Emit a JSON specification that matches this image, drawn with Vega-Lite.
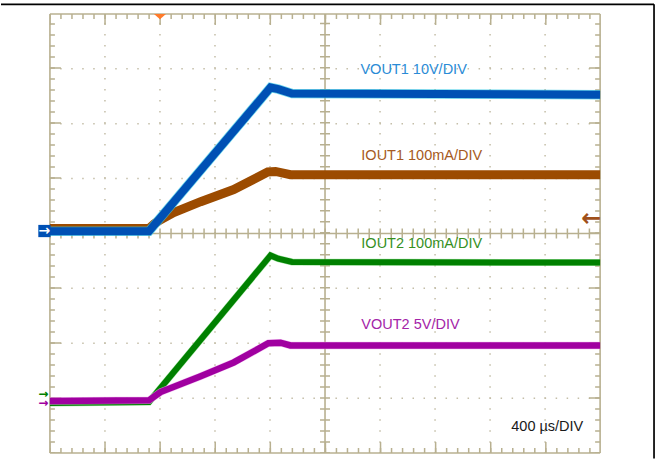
{
  "$schema": "https://vega.github.io/schema/vega-lite/v6.json",
  "width": 657,
  "height": 460,
  "autosize": {"type": "fit", "contains": "padding"},
  "padding": 0,
  "background": "white",
  "view": {"stroke": null},
  "config": {"font": "Liberation Sans"},
  "datasets": {
    "frame": [
      {"t": -0.8893, "t2": 10.98, "v": 4.176, "v2": 4.176},
      {"t": 10.98, "t2": 10.98, "v": -4.1, "v2": 4.176}
    ],
    "dotgrid": [
      {"t": 1, "t2": 1, "v": -4, "v2": 4},
      {"t": 2, "t2": 2, "v": -4, "v2": 4},
      {"t": 3, "t2": 3, "v": -4, "v2": 4},
      {"t": 4, "t2": 4, "v": -4, "v2": 4},
      {"t": 6, "t2": 6, "v": -4, "v2": 4},
      {"t": 7, "t2": 7, "v": -4, "v2": 4},
      {"t": 8, "t2": 8, "v": -4, "v2": 4},
      {"t": 9, "t2": 9, "v": -4, "v2": 4},
      {"t": 0, "t2": 10, "v": 3, "v2": 3},
      {"t": 0, "t2": 10, "v": 2, "v2": 2},
      {"t": 0, "t2": 10, "v": 1, "v2": 1},
      {"t": 0, "t2": 10, "v": -1, "v2": -1},
      {"t": 0, "t2": 10, "v": -2, "v2": -2},
      {"t": 0, "t2": 10, "v": -3, "v2": -3}
    ],
    "solid": [
      {"t": 0, "t2": 10, "v": 4, "v2": 4},
      {"t": 0, "t2": 10, "v": -4, "v2": -4},
      {"t": 0, "t2": 0, "v": -4, "v2": 4},
      {"t": 10, "t2": 10, "v": -4, "v2": 4},
      {"t": 5, "t2": 5, "v": -4, "v2": 4},
      {"t": 0, "t2": 10, "v": 0, "v2": 0}
    ],
    "centerticks": [
      {"t": 5, "t2": 5, "v": -4, "v2": 4},
      {"t": 0, "t2": 10, "v": 0, "v2": 0}
    ],
    "top": [{"t": 0, "t2": 10, "v": 4, "v2": 4}],
    "bottom": [{"t": 0, "t2": 10, "v": -4, "v2": -4}],
    "left": [{"t": 0, "t2": 0, "v": -4, "v2": 4}],
    "right": [{"t": 10, "t2": 10, "v": -4, "v2": 4}],
    "traces": [
      {"series": "IOUT1", "t": 0, "v": 0.09},
      {"series": "IOUT1", "t": 1.8, "v": 0.09},
      {"series": "IOUT1", "t": 1.9, "v": 0.18},
      {"series": "IOUT1", "t": 2.01, "v": 0.25},
      {"series": "IOUT1", "t": 2.25, "v": 0.38},
      {"series": "IOUT1", "t": 2.74, "v": 0.58},
      {"series": "IOUT1", "t": 3.34, "v": 0.8},
      {"series": "IOUT1", "t": 3.96, "v": 1.12},
      {"series": "IOUT1", "t": 4.1, "v": 1.13},
      {"series": "IOUT1", "t": 4.37, "v": 1.07},
      {"series": "IOUT1", "t": 10, "v": 1.07},
      {"series": "VOUT1", "t": 0, "v": 0.04},
      {"series": "VOUT1", "t": 1.8, "v": 0.04},
      {"series": "VOUT1", "t": 4.01, "v": 2.66},
      {"series": "VOUT1", "t": 4.15, "v": 2.63},
      {"series": "VOUT1", "t": 4.4, "v": 2.55},
      {"series": "VOUT1", "t": 10, "v": 2.53},
      {"series": "IOUT2", "t": 0, "v": -3.09},
      {"series": "IOUT2", "t": 1.8, "v": -3.07},
      {"series": "IOUT2", "t": 4.01, "v": -0.4},
      {"series": "IOUT2", "t": 4.15, "v": -0.46},
      {"series": "IOUT2", "t": 4.4, "v": -0.52},
      {"series": "IOUT2", "t": 10, "v": -0.53},
      {"series": "VOUT2", "t": 0, "v": -3.05},
      {"series": "VOUT2", "t": 1.8, "v": -3.04},
      {"series": "VOUT2", "t": 2.01, "v": -2.89},
      {"series": "VOUT2", "t": 2.74, "v": -2.6},
      {"series": "VOUT2", "t": 3.34, "v": -2.35},
      {"series": "VOUT2", "t": 3.97, "v": -2.0},
      {"series": "VOUT2", "t": 4.19, "v": -1.99},
      {"series": "VOUT2", "t": 4.37, "v": -2.04},
      {"series": "VOUT2", "t": 10, "v": -2.04}
    ],
    "labels": [
      {"label": "VOUT1 10V/DIV", "t": 5.644, "v": 2.909},
      {"label": "IOUT1 100mA/DIV", "t": 5.66, "v": 1.345},
      {"label": "IOUT2 100mA/DIV", "t": 5.66, "v": -0.273},
      {"label": "VOUT2 5V/DIV", "t": 5.66, "v": -1.745},
      {"label": "400 µs/DIV", "t": 8.385, "v": -3.6}
    ],
    "trigger": [{"t": 2, "v": 4}],
    "ch1": [{"t": -0.1, "v": 0.045}],
    "ch24": [
      {"name": "IOUT2", "sym": "→", "t": -0.12, "v": -2.92},
      {"name": "VOUT2", "sym": "→", "t": -0.12, "v": -3.08}
    ],
    "ch3": [{"sym": "←", "t": 9.84, "v": 0.27}]
  },
  "encoding": {
    "x": {"field": "t", "type": "quantitative", "scale": {"domain": [-0.8893, 11.034], "nice": false, "zero": false}, "axis": null},
    "y": {"field": "v", "type": "quantitative", "scale": {"domain": [-4.1091, 4.2545], "nice": false, "zero": false}, "axis": null}
  },
  "layer": [
    {
      "data": {"name": "frame"},
      "mark": {"type": "rule", "color": "#000000", "strokeWidth": 1.7},
      "encoding": {"x2": {"field": "t2"}, "y2": {"field": "v2"}}
    },
    {
      "data": {"name": "dotgrid"},
      "mark": {"type": "rule", "color": "#c4bea8", "strokeWidth": 1.5, "strokeDash": [1.5, 9.51], "strokeDashOffset": 0.75},
      "encoding": {"x2": {"field": "t2"}, "y2": {"field": "v2"}}
    },
    {
      "data": {"name": "solid"},
      "mark": {"type": "rule", "color": "#b8b090", "strokeWidth": 1.6},
      "encoding": {"x2": {"field": "t2"}, "y2": {"field": "v2"}}
    },
    {
      "data": {"name": "centerticks"},
      "mark": {"type": "rule", "color": "#b8b090", "strokeWidth": 10, "strokeDash": [1.5, 9.51], "strokeDashOffset": 0.75},
      "encoding": {"x2": {"field": "t2"}, "y2": {"field": "v2"}}
    },
    {
      "data": {"name": "top"},
      "mark": {"type": "rule", "color": "#b8b090", "strokeWidth": 5, "yOffset": 2.5, "y2Offset": 2.5, "strokeDash": [1.5, 9.52], "strokeDashOffset": 0.75},
      "encoding": {"x2": {"field": "t2"}, "y2": {"field": "v2"}}
    },
    {
      "data": {"name": "bottom"},
      "mark": {"type": "rule", "color": "#b8b090", "strokeWidth": 5, "yOffset": -2.5, "y2Offset": -2.5, "strokeDash": [1.5, 9.52], "strokeDashOffset": 0.75},
      "encoding": {"x2": {"field": "t2"}, "y2": {"field": "v2"}}
    },
    {
      "data": {"name": "left"},
      "mark": {"type": "rule", "color": "#b8b090", "strokeWidth": 5, "xOffset": 2.5, "x2Offset": 2.5, "strokeDash": [1.5, 9.5], "strokeDashOffset": 0.75},
      "encoding": {"x2": {"field": "t2"}, "y2": {"field": "v2"}}
    },
    {
      "data": {"name": "right"},
      "mark": {"type": "rule", "color": "#b8b090", "strokeWidth": 5, "xOffset": -2.5, "x2Offset": -2.5, "strokeDash": [1.5, 9.5], "strokeDashOffset": 0.75},
      "encoding": {"x2": {"field": "t2"}, "y2": {"field": "v2"}}
    },
    {
      "data": {"name": "top"},
      "mark": {"type": "rule", "color": "#b8b090", "strokeWidth": 11, "yOffset": 5.5, "y2Offset": 5.5, "strokeDash": [1.5, 53.6], "strokeDashOffset": 0.75},
      "encoding": {"x2": {"field": "t2"}, "y2": {"field": "v2"}}
    },
    {
      "data": {"name": "bottom"},
      "mark": {"type": "rule", "color": "#b8b090", "strokeWidth": 11, "yOffset": -5.5, "y2Offset": -5.5, "strokeDash": [1.5, 53.6], "strokeDashOffset": 0.75},
      "encoding": {"x2": {"field": "t2"}, "y2": {"field": "v2"}}
    },
    {
      "data": {"name": "left"},
      "mark": {"type": "rule", "color": "#b8b090", "strokeWidth": 11, "xOffset": 5.5, "x2Offset": 5.5, "strokeDash": [1.5, 53.5], "strokeDashOffset": 0.75},
      "encoding": {"x2": {"field": "t2"}, "y2": {"field": "v2"}}
    },
    {
      "data": {"name": "right"},
      "mark": {"type": "rule", "color": "#b8b090", "strokeWidth": 11, "xOffset": -5.5, "x2Offset": -5.5, "strokeDash": [1.5, 53.5], "strokeDashOffset": 0.75},
      "encoding": {"x2": {"field": "t2"}, "y2": {"field": "v2"}}
    },
    {
      "data": {"name": "traces"},
      "transform": [{"filter": "datum.series === 'IOUT1'"}],
      "mark": {"type": "line", "color": "#9c4b00", "strokeWidth": 9}
    },
    {
      "data": {"name": "traces"},
      "transform": [{"filter": "datum.series === 'VOUT1'"}],
      "mark": {"type": "line", "color": "#30c8e4", "strokeWidth": 9.5, "opacity": 0.7}
    },
    {
      "data": {"name": "traces"},
      "transform": [{"filter": "datum.series === 'VOUT1'"}],
      "mark": {"type": "line", "color": "#0050b4", "strokeWidth": 8}
    },
    {
      "data": {"name": "traces"},
      "transform": [{"filter": "datum.series === 'IOUT2'"}],
      "mark": {"type": "line", "color": "#70d870", "strokeWidth": 7, "opacity": 0.6}
    },
    {
      "data": {"name": "traces"},
      "transform": [{"filter": "datum.series === 'IOUT2'"}],
      "mark": {"type": "line", "color": "#008000", "strokeWidth": 6}
    },
    {
      "data": {"name": "traces"},
      "transform": [{"filter": "datum.series === 'VOUT2'"}],
      "mark": {"type": "line", "color": "#f0a8f0", "strokeWidth": 7.5, "opacity": 0.7}
    },
    {
      "data": {"name": "traces"},
      "transform": [{"filter": "datum.series === 'VOUT2'"}],
      "mark": {"type": "line", "color": "#a000a0", "strokeWidth": 6.5}
    },
    {
      "data": {"name": "labels"},
      "mark": {"type": "text", "align": "left", "baseline": "alphabetic", "fontSize": 14.5, "font": "Liberation Sans"},
      "encoding": {
        "text": {"field": "label"},
        "color": {
          "field": "label",
          "type": "nominal",
          "scale": {
            "domain": ["VOUT1 10V/DIV", "IOUT1 100mA/DIV", "IOUT2 100mA/DIV", "VOUT2 5V/DIV", "400 µs/DIV"],
            "range": ["#2a8bd6", "#a65a22", "#36901f", "#a424a8", "#1a1a1a"]
          },
          "legend": null
        }
      }
    },
    {
      "data": {"name": "trigger"},
      "mark": {"type": "point", "shape": "M-1,-0.45L1,-0.45L0,0.45Z", "filled": true, "color": "#ff7a2a", "size": 144, "opacity": 1, "yOffset": 2.7}
    },
    {
      "data": {"name": "ch1"},
      "mark": {"type": "point", "shape": "square", "filled": true, "color": "#0050b4", "size": 150, "opacity": 1}
    },
    {
      "data": {"name": "ch1"},
      "mark": {"type": "text", "text": "→", "color": "white", "fontSize": 14, "fontWeight": "bold", "font": "DejaVu Sans", "align": "center", "baseline": "middle"}
    },
    {
      "data": {"name": "ch24"},
      "mark": {"type": "text", "fontSize": 12, "fontWeight": "bold", "font": "DejaVu Sans", "align": "center", "baseline": "middle"},
      "encoding": {
        "text": {"field": "sym"},
        "color": {"field": "name", "type": "nominal", "scale": {"domain": ["IOUT2", "VOUT2"], "range": ["#008000", "#a000a0"]}, "legend": null}
      }
    },
    {
      "data": {"name": "ch3"},
      "mark": {"type": "text", "fontSize": 24, "fontWeight": "bold", "font": "DejaVu Sans", "align": "center", "baseline": "middle", "color": "#a0501a"},
      "encoding": {"text": {"field": "sym"}}
    }
  ],
  "resolve": {"scale": {"color": "independent"}}
}
